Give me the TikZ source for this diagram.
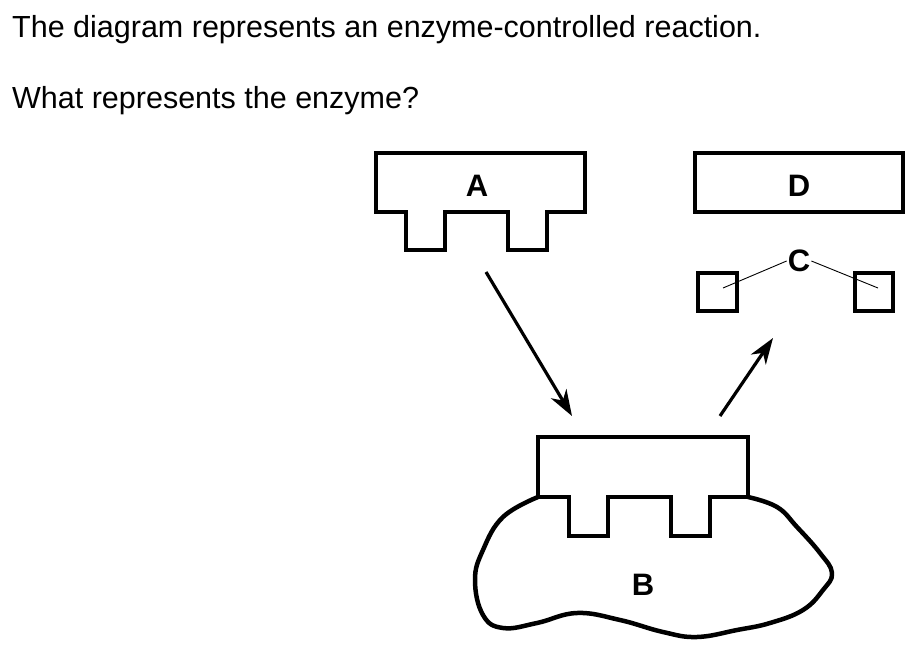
\documentclass[tikz,border=0pt]{standalone}
\usepackage{fontspec}
\setmainfont{Liberation Sans}
\usetikzlibrary{arrows.meta,positioning,calc}

\begin{document}
\begin{tikzpicture}[
      x=1pt, y=-1pt,
      question/.style={
        anchor=base west,
        inner sep=0pt,
        font=\fontsize{30.5}{36}\selectfont
      },
      part/.style={line width=4.5pt, line join=miter},
      tag/.style={
        font=\fontsize{31}{36}\selectfont\bfseries,
        inner sep=1pt
      },
      link/.style={line width=0.9pt},
      step arrow/.style={
        line width=3.2pt,
        -{Stealth[length=26pt,width=18pt,inset=8pt]}
      }
    ]

    \useasboundingbox (0,0) rectangle (922,654);

    % Question text
    \node[question] (q1) at (12,37) {The diagram represents an enzyme-controlled reaction.};
    \node[question] (q2) at (12,108) {What represents the enzyme?};

    % Substrate A: block with two pegs
    \draw[part] (376,153) -- (585,153) -- (585,212) -- (547,212) -- (547,250)
      -- (508,250) -- (508,212) -- (445,212) -- (445,250) -- (406,250)
      -- (406,212) -- (376,212) -- cycle;
    \node[tag] (A) at (477,186) {A};

    % Product D: plain block
    \draw[part] (695,153) rectangle (903,212);
    \node[tag] (D) at (799,186) {D};

    % Products C: two small squares
    \draw[part] (698,273) rectangle (737,311);
    \draw[part] (855,273) rectangle (893,311);
    \node[tag] (C) at (799,261) {C};
    \coordinate (cl) at (723,288);
    \coordinate (cr) at (878,288);
    \draw[link] (C.west) -- (cl);
    \draw[link] (C.east) -- (cr);

    % Enzyme B: irregular blob with A sitting on it
    \draw[part, line join=round] plot[smooth, tension=0.7] coordinates {
        (538,497) (503,517) (483,550) (475,580) (483,615) (503,628)
        (537,623) (577,613) (620,620) (663,632) (697,637) (737,630)
        (770,623) (803,610) (823,590) (832,573) (820,553) (797,527)
        (777,507) (748,497)};
    \draw[part] (538,497) -- (538,437) -- (748,437) -- (748,497)
      -- (710,497) -- (710,536) -- (671,536) -- (671,497)
      -- (608,497) -- (608,536) -- (569,536) -- (569,497) -- cycle;
    \node[tag] (B) at (643,585) {B};

    % Arrows in and out
    \coordinate (in1) at (486,272);
    \coordinate (in2) at (572,416);
    \coordinate (out1) at (720,416);
    \coordinate (out2) at (773,338);
    \draw[step arrow] (in1) -- (in2);
    \draw[step arrow] (out1) -- (out2);

    \end{tikzpicture}
\end{document}
